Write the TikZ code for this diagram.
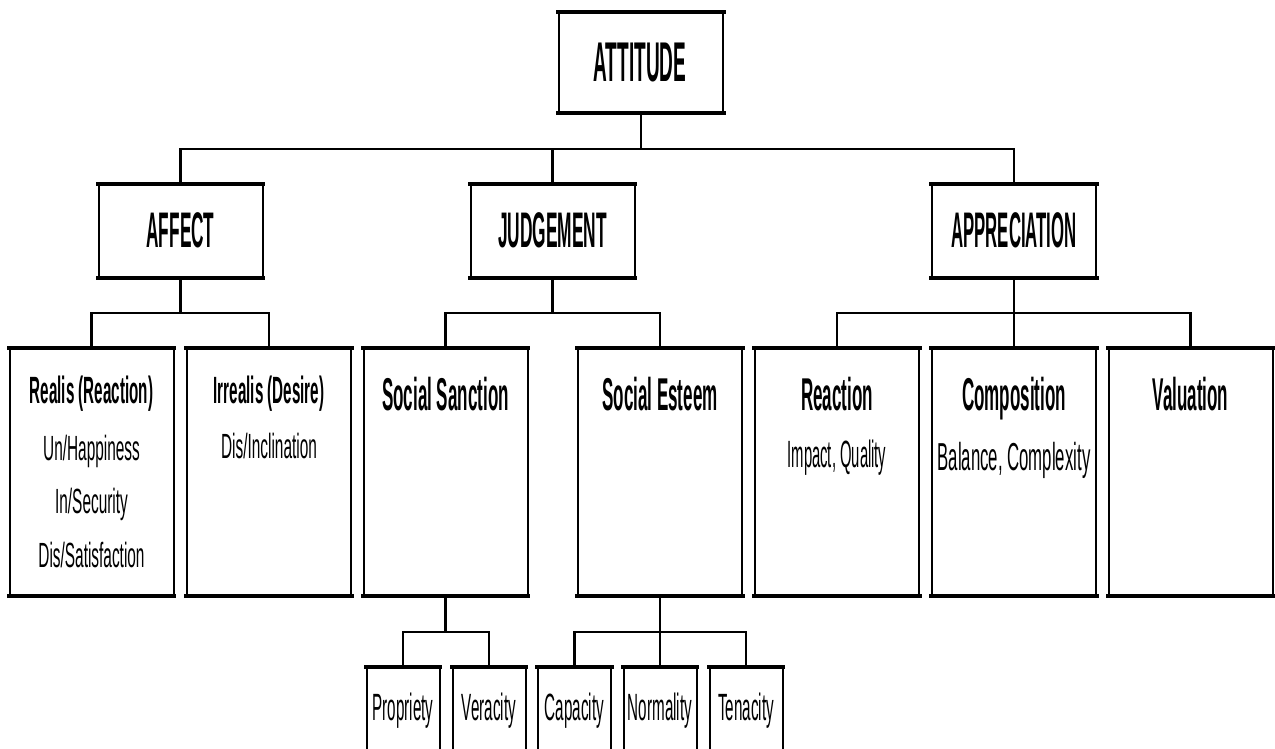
\documentclass[tikz,border=0pt]{standalone}
\usepackage{fontspec}
\setmainfont{Liberation Sans}
\usepackage{graphicx}
\newcommand\sq[2]{\scalebox{#1}[1]{#2}}
\tikzset{
  bx/.style={draw, line width=1pt, fill=white, inner sep=0pt},
  hbox/.style={bx, minimum width=82pt, minimum height=46pt},
  tbox/.style={bx, minimum width=82pt, minimum height=123pt},
  sbox/.style={bx, minimum width=36.5pt, minimum height=46pt},
  ln/.style={line width=1.1pt},
  edge top/.style={line width=1.7pt, line cap=rect},
  hd/.style={anchor=base, inner sep=0pt, font=\fontsize{25}{27}\selectfont\bfseries},
  st/.style={anchor=base, inner sep=0pt, font=\fontsize{23}{25}\selectfont\bfseries},
  stsmall/.style={anchor=base, inner sep=0pt, font=\fontsize{19}{21}\selectfont\bfseries},
  rg/.style={anchor=base, inner sep=0pt, font=\fontsize{17.5}{19}\selectfont},
  rgb/.style={anchor=base, inner sep=0pt, font=\fontsize{19}{21}\selectfont},
}
\begin{document}
\begin{tikzpicture}[x=0.5pt,y=-0.5pt]
\useasboundingbox (0,0) rectangle (1275,749);
\clip (0,0) rectangle (1275,749);
\fill[white] (0,0) rectangle (1275,749);

% boxes
\node[bx, minimum width=82pt, minimum height=49.5pt] (attitude) at (641,62.5) {};
\node[hbox] (affect) at (180.5,231) {};
\node[hbox] (judgement) at (552.5,231) {};
\node[hbox] (appreciation) at (1014,231) {};

\node[tbox] (realis) at (91.5,472) {};
\node[tbox] (irrealis) at (269,472) {};
\node[tbox] (sanction) at (445.5,472) {};
\node[tbox] (esteem) at (660,472) {};
\node[tbox] (reaction) at (837,472) {};
\node[tbox] (composition) at (1014,472) {};
\node[tbox] (valuation) at (1190.5,472) {};

\node[sbox] (propriety) at (403,714) {};
\node[sbox] (veracity) at (489,714) {};
\node[sbox] (capacity) at (574.5,714) {};
\node[sbox] (normality) at (660,714) {};
\node[sbox] (tenacity) at (746,714) {};

\foreach \n in {attitude,affect,judgement,appreciation,realis,irrealis,sanction,esteem,reaction,composition,valuation,propriety,veracity,capacity,normality,tenacity}{
  \draw[edge top] (\n.north west) -- (\n.north east) (\n.south west) -- (\n.south east);
}

% bus coordinates
\coordinate (busTop) at (641,149);
\coordinate (busMid) at (0,313);
\coordinate (busLow) at (0,632);

% connectors
\draw[ln] (attitude.south) -- (busTop);
\draw[ln] (affect.north) -- (affect.north |- busTop) -- (appreciation.north |- busTop) -- (appreciation.north);
\draw[ln] (judgement.north) -- (judgement.north |- busTop);

\draw[ln] (affect.south) -- (affect.south |- busMid);
\draw[ln] (realis.north) -- (realis.north |- busMid) -- (irrealis.north |- busMid) -- (irrealis.north);

\draw[ln] (judgement.south) -- (judgement.south |- busMid);
\draw[ln] (sanction.north) -- (sanction.north |- busMid) -- (esteem.north |- busMid) -- (esteem.north);

\draw[ln] (appreciation.south) -- (appreciation.south |- busMid);
\draw[ln] (reaction.north) -- (reaction.north |- busMid) -- (valuation.north |- busMid) -- (valuation.north);
\draw[ln] (composition.north) -- (composition.north |- busMid);

\draw[ln] (sanction.south) -- (sanction.south |- busLow);
\draw[ln] (propriety.north) -- (propriety.north |- busLow) -- (veracity.north |- busLow) -- (veracity.north);

\draw[ln] (esteem.south) -- (esteem.south |- busLow);
\draw[ln] (capacity.north) -- (capacity.north |- busLow) -- (tenacity.north |- busLow) -- (tenacity.north);
\draw[ln] (normality.north) -- (normality.north |- busLow);

% texts
\node[anchor=base, inner sep=0pt, font=\fontsize{28}{30}\selectfont\bfseries] (attitudeT) at (640,82) {\sq{0.34}{ATTITUDE}};
\node[hd] (affectT) at (180.5,247) {\sq{0.345}{AFFECT}};
\node[hd] (judgementT) at (552.5,247) {\sq{0.347}{JUDGEMENT}};
\node[hd] (appreciationT) at (1014,247) {\sq{0.335}{APPRECIATION}};

\node[stsmall] (realisT) at (91.5,403) {\sq{0.40}{Realis (Reaction)}};
\node[rg] (realis1) at (91.5,460) {\sq{0.44}{Un/Happiness}};
\node[rg] (realis2) at (91.5,513) {\sq{0.44}{In/Security}};
\node[rg] (realis3) at (91.5,567) {\sq{0.44}{Dis/Satisfaction}};

\node[stsmall] (irrealisT) at (269,403) {\sq{0.40}{Irrealis (Desire)}};
\node[rg] (irrealis1) at (269,458) {\sq{0.44}{Dis/Inclination}};

\node[st] (sanctionT) at (445.5,410) {\sq{0.37}{Social Sanction}};
\node[st] (esteemT) at (660,410) {\sq{0.37}{Social Esteem}};

\node[st] (reactionT) at (837,410) {\sq{0.37}{Reaction}};
\node[rgb] (reaction1) at (837,467) {\sq{0.39}{Impact, Quality}};
\node[st] (compositionT) at (1014,410) {\sq{0.37}{Composition}};
\node[anchor=base, inner sep=0pt, font=\fontsize{19.5}{21}\selectfont] (composition1) at (1014,470) {\sq{0.43}{Balance, Complexity}};
\node[st] (valuationT) at (1190.5,410) {\sq{0.37}{Valuation}};

\node[rgb] (proprietyT) at (403,720) {\sq{0.40}{Propriety}};
\node[rgb] (veracityT) at (489,720) {\sq{0.40}{Veracity}};
\node[rgb] (capacityT) at (574.5,720) {\sq{0.40}{Capacity}};
\node[rgb] (normalityT) at (660,720) {\sq{0.40}{Normality}};
\node[rgb] (tenacityT) at (746,720) {\sq{0.40}{Tenacity}};
\end{tikzpicture}
\end{document}
